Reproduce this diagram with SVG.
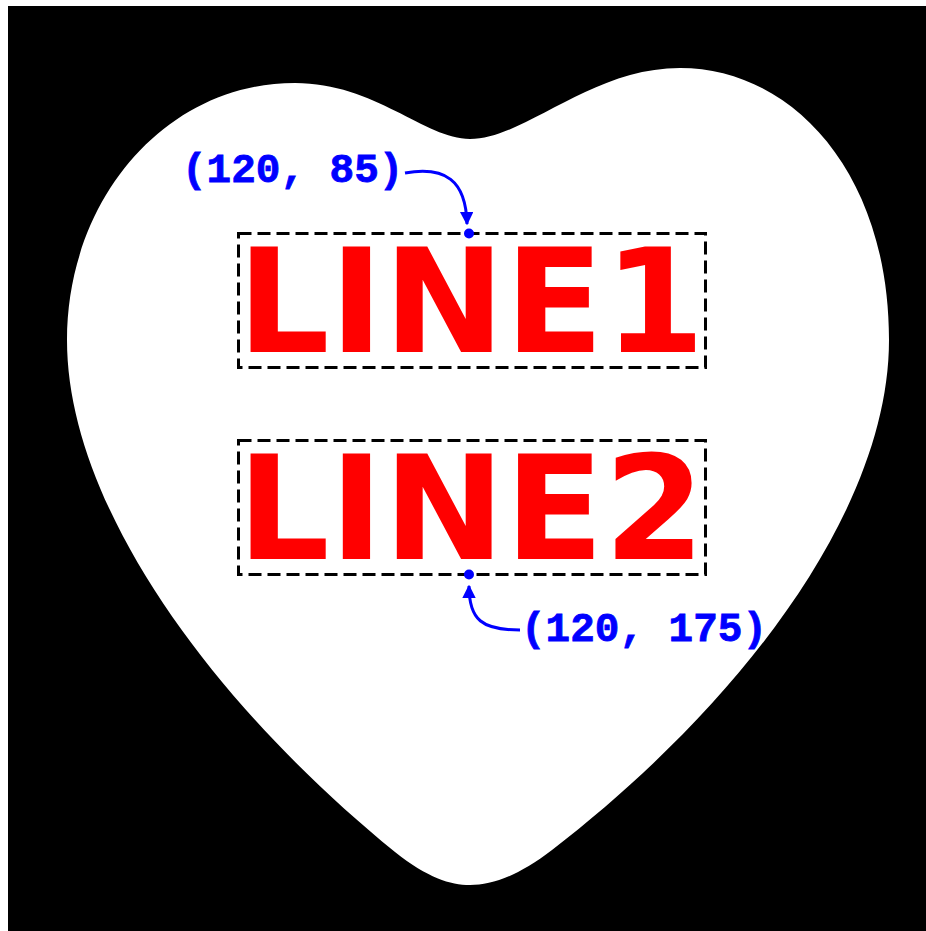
<svg xmlns="http://www.w3.org/2000/svg" width="926" height="931" viewBox="0 0 926 931">
<style>
.box{fill:none;stroke:#000;stroke-width:3;stroke-dasharray:13 6}
.big{font-family:"DejaVu Sans",sans-serif;font-weight:bold;font-size:145px;fill:#ff0000;text-anchor:middle}
.lbl{font-family:"Liberation Mono",monospace;font-weight:bold;font-size:41px;fill:#0000ff;stroke:#0000ff;stroke-width:0.8}
.conn{fill:none;stroke:#0000ff;stroke-width:3}
.dot{fill:#0000ff}
</style>
<defs>
<marker id="ah" viewBox="0 0 10 10" refX="9" refY="5" markerWidth="4.5" markerHeight="4.5" markerUnits="strokeWidth" orient="auto">
<path d="M0,0 L10,5 L0,10 Z" fill="#0000ff"/>
</marker>
</defs>
<rect x="0" y="0" width="926" height="931" fill="#fff"/>
<rect x="8" y="6" width="918" height="925" fill="#000"/>
<path id="heart" fill="#fff" d="M470,139 C425,139 375,83 295,83 C165,83 67,200 67,340 C67,510 220,710 395,852 C428,878 450,885 470,885 C492,885 518,876 552,850 C740,705 889,510 889,340 C889,170 790,68 680,68 C590,68 525,139 470,139 Z"/>
<g id="line1">
<rect class="box" x="238.5" y="233.5" width="467" height="134"/>
<text class="big" x="471" y="352">LINE1</text>
<circle class="dot" cx="469" cy="233.5" r="5"/>
</g>
<g id="line2">
<rect class="box" x="238.5" y="440.5" width="467" height="134"/>
<text class="big" x="471" y="559">LINE2</text>
<circle class="dot" cx="469" cy="574.5" r="5"/>
</g>
<g id="label1"><text class="lbl" x="182" y="182">(120, 85)</text></g>
<g id="label2"><text class="lbl" x="521" y="641">(120, 175)</text></g>
<g id="connectors">
<path class="conn" marker-end="url(#ah)" d="M405,173 C445,166 466,180 467,224"/>
<path class="conn" marker-end="url(#ah)" d="M520,630 C482,630 469,620 469,586"/>
</g>
</svg>
